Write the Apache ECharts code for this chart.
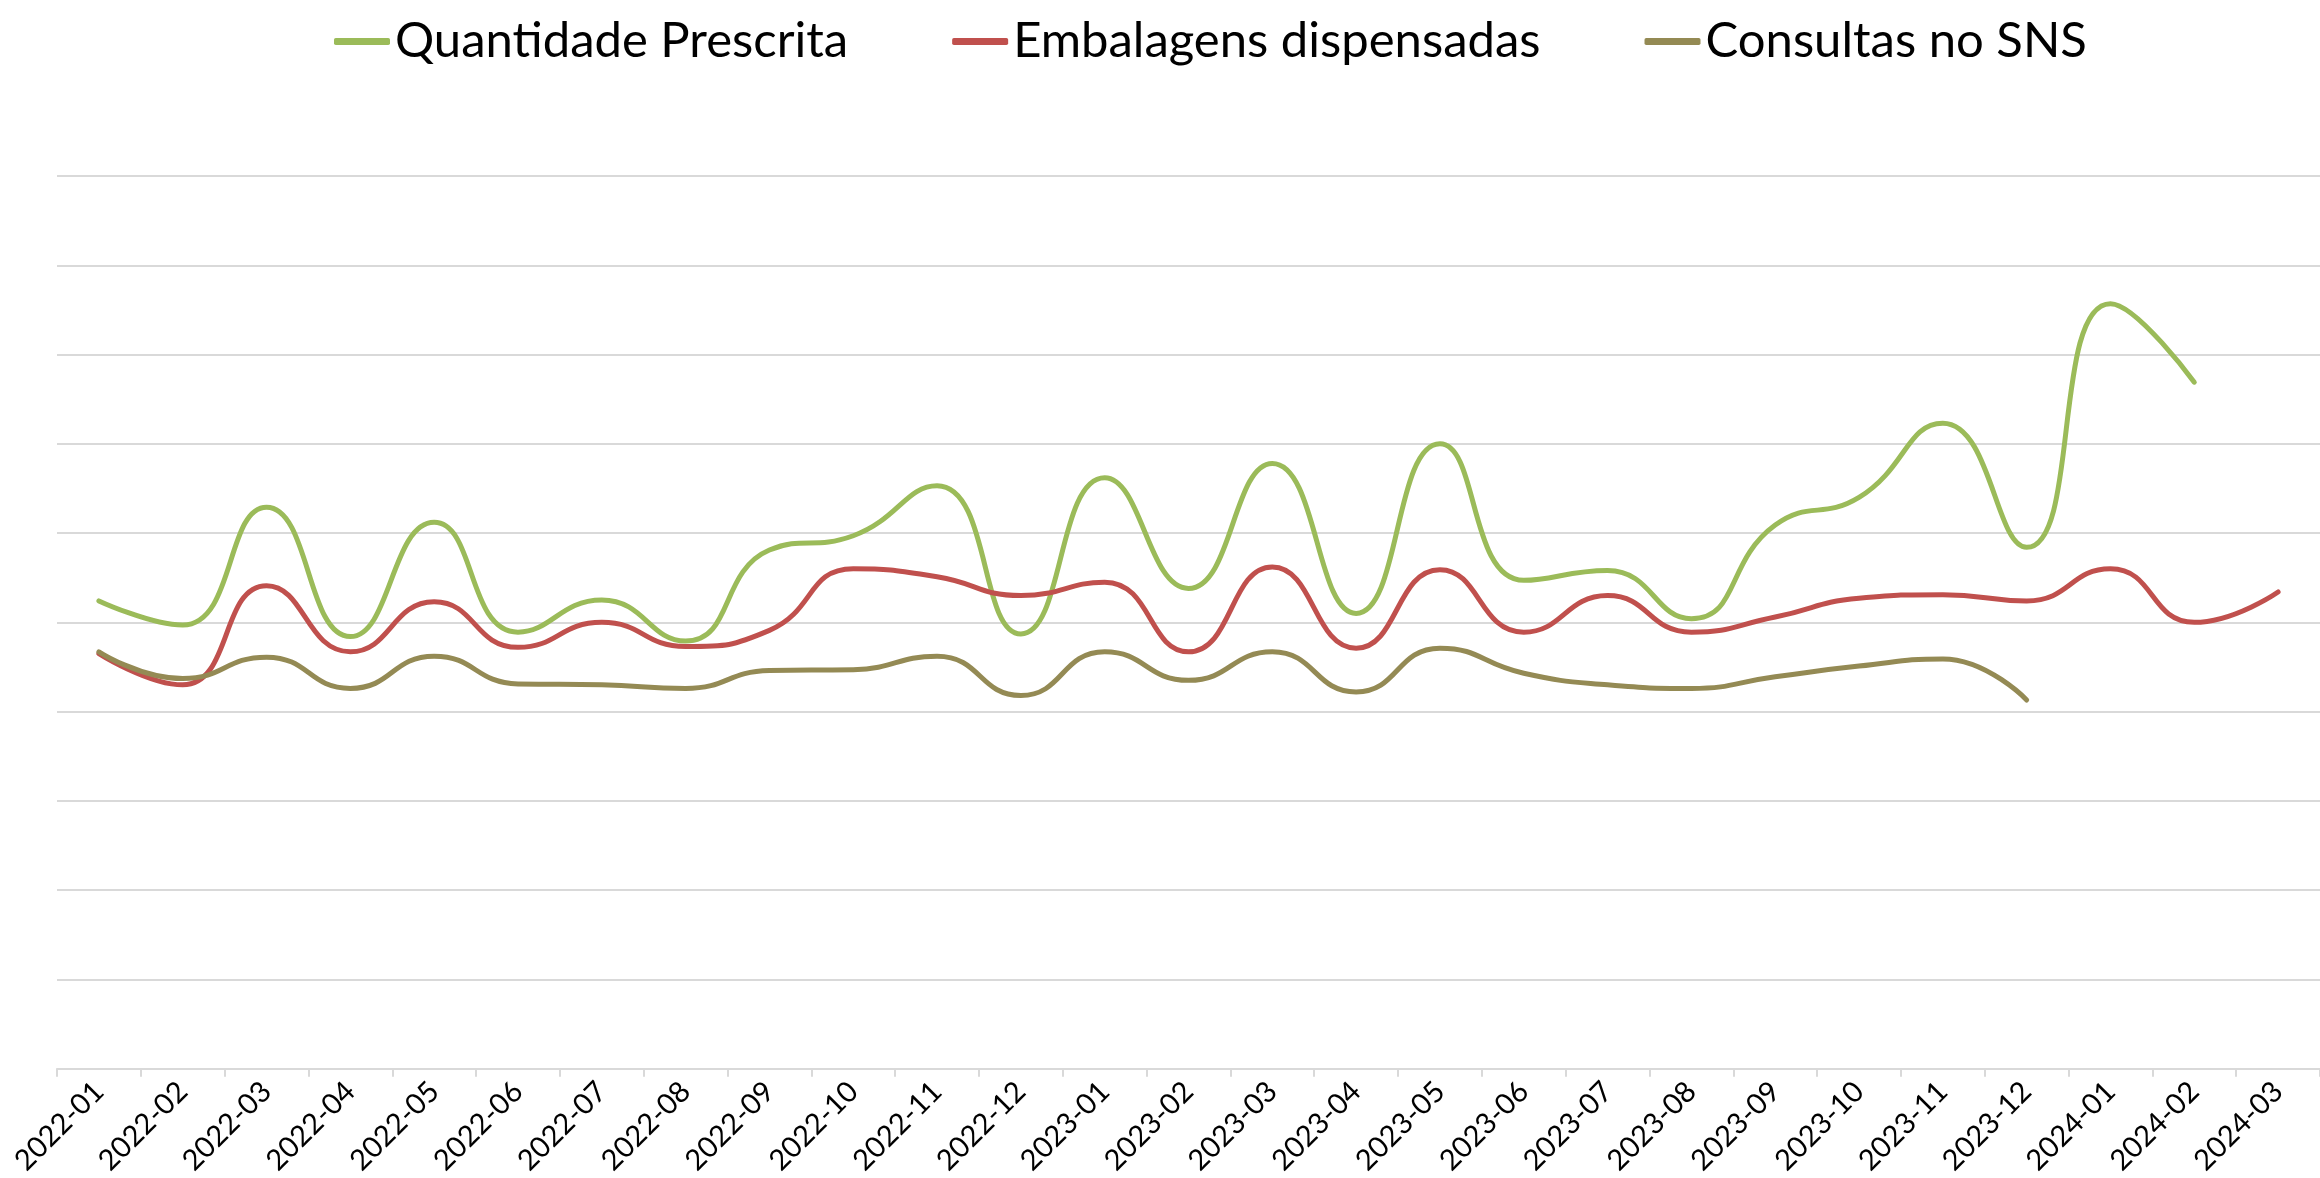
<!DOCTYPE html>
<html>
<head>
<meta charset="utf-8">
<title>Prescrição vs dispensa</title>
<script src="https://cdn.jsdelivr.net/npm/echarts@6/dist/echarts.min.js"></script>
<style>
  html, body { margin: 0; padding: 0; background: #fff; }
  #chart { width: 2320px; height: 1178px; }
</style>
</head>
<body>
<div id="chart"></div>
<script>
const months = [
  '2022-01', '2022-02', '2022-03', '2022-04', '2022-05', '2022-06', '2022-07', '2022-08', '2022-09',
  '2022-10', '2022-11', '2022-12', '2023-01', '2023-02', '2023-03', '2023-04', '2023-05', '2023-06',
  '2023-07', '2023-08', '2023-09', '2023-10', '2023-11', '2023-12', '2024-01', '2024-02', '2024-03'
];

// no y labels in the source, values read in gridline units (1 line = 100)
const quantidadePrescrita = [
  524, 497, 629, 484, 612, 489, 525, 479, 581, 597, 653, 487, 662,
  538, 678, 510, 700, 547, 558, 504, 609, 640, 723, 584, 857, 769
];
const embalagensDispensadas = [
  465, 430, 541, 467, 523, 472, 500, 473, 491, 560, 551, 530, 545, 467,
  562, 471, 559, 489, 530, 489, 506, 527, 531, 524, 560, 500, 534
];
const consultasSNS = [
  467, 437, 461, 426, 462, 431, 430, 426, 446, 447, 462, 418,
  467, 435, 467, 422, 471, 443, 430, 426, 439, 451, 459, 413
];

const seriesNames = ['Quantidade Prescrita', 'Embalagens dispensadas', 'Consultas no SNS'];
const seriesColors = ['#9BBB59', '#C0504D', '#948A54'];

const fontName = 'Lato';

const chart = echarts.init(document.getElementById('chart'), null, { renderer: 'canvas' });

const makeLine = (name, data, color) => ({
  name,
  type: 'line',
  data,
  smooth: 0.5,
  symbol: 'none',
  lineStyle: { width: 5, color, cap: 'round' },
  itemStyle: { color }
});

chart.setOption({
  animation: false,
  backgroundColor: '#fff',
  legend: {
    top: 12,
    left: 329,
    icon: 'roundRect',
    itemWidth: 56,
    itemHeight: 7,
    itemGap: 104,
    textStyle: { fontFamily: fontName, fontSize: 49, color: '#000' },
    data: seriesNames
  },
  grid: {
    left: 57,
    top: 176,
    width: 2277,
    height: 893,
    containLabel: false
  },
  xAxis: {
    type: 'category',
    data: months,
    boundaryGap: true,
    axisLine: { lineStyle: { color: '#d9d9d9', width: 2 } },
    axisTick: { show: true, length: 8, lineStyle: { color: '#d9d9d9', width: 2 } },
    axisLabel: {
      interval: 0,
      rotate: 45,
      margin: 18,
      fontFamily: fontName,
      fontSize: 29,
      color: '#000'
    }
  },
  yAxis: {
    type: 'value',
    min: 0,
    max: 1000,
    interval: 100,
    axisLabel: { show: false },
    axisLine: { show: false },
    axisTick: { show: false },
    splitLine: { lineStyle: { color: '#d9d9d9', width: 2 } }
  },
  series: [
    makeLine(seriesNames[0], quantidadePrescrita, seriesColors[0]),
    makeLine(seriesNames[1], embalagensDispensadas, seriesColors[1]),
    makeLine(seriesNames[2], consultasSNS, seriesColors[2])
  ]
});
</script>
</body>
</html>
